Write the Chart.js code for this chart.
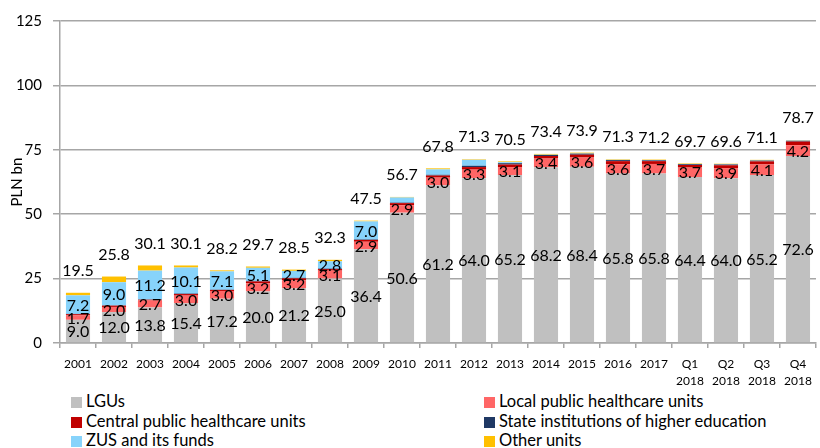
<!DOCTYPE html>
<html>
<head>
<meta charset="utf-8">
<script src="https://cdn.jsdelivr.net/npm/chart.js@4.4.0/dist/chart.umd.min.js"></script>
<style>
  body { margin: 0; background: #fff; font-family: Lato, sans-serif; }
  #wrap { position: relative; width: 820px; height: 448px; }
  #legend { position: absolute; left: 0; top: 392px; width: 820px; }
  .item { position: absolute; height: 19px; line-height: 19px; font-size: 16.5px; color: #000; white-space: nowrap; }
  .box { display: inline-block; width: 11px; height: 11px; margin-right: 4px; vertical-align: -1px; }
</style>
</head>
<body>
<div id="wrap">
  <canvas id="chart" width="820" height="390"></canvas>
  <div id="legend"></div>
</div>
<script>
// catégories
var periods = ['2001', '2002', '2003', '2004', '2005', '2006', '2007', '2008', '2009', '2010',
    '2011', '2012', '2013', '2014', '2015', '2016', '2017',
    ['Q1', '2018'], ['Q2', '2018'], ['Q3', '2018'], ['Q4', '2018']];

// séries (PLN bn)
var lgus = [9.0, 12.0, 13.8, 15.4, 17.2, 20.0, 21.2, 25.0, 36.4, 50.6, 61.2, 64.0, 65.2, 68.2, 68.4, 65.8, 65.8, 64.4, 64.0, 65.2, 72.6];
var localUnits = [1.7, 2.0, 2.7, 3.0, 3.0, 3.2, 3.2, 3.1, 2.9, 2.9, 3.0, 3.3, 3.1, 3.4, 3.6, 3.6, 3.7, 3.7, 3.9, 4.1, 4.2];
var centralUnits = [0.5, 0.5, 0.3, 0.6, 0.4, 0.7, 0.7, 0.6, 0.7, 0.8, 0.8, 1.0, 1.0, 1.0, 1.1, 1.2, 1.1, 1.0, 1.1, 1.2, 1.4];
var higherEd = [0.1, 0.1, 0.1, 0.2, 0.1, 0.2, 0.2, 0.2, 0.2, 0.2, 0.3, 0.5, 0.5, 0.4, 0.4, 0.4, 0.3, 0.3, 0.3, 0.3, 0.3];
var zus = [7.2, 9.0, 11.2, 10.1, 7.1, 5.1, 2.7, 2.8, 7.0, 2.0, 2.1, 2.3, 0.4, 0.1, 0.1, 0.1, 0.1, 0.1, 0.1, 0.1, 0.1];
var otherUnits = [1.0, 2.2, 2.0, 0.8, 0.4, 0.5, 0.5, 0.6, 0.3, 0.2, 0.4, 0.2, 0.3, 0.3, 0.3, 0.2, 0.2, 0.2, 0.2, 0.2, 0.1];
var totals = [19.5, 25.8, 30.1, 30.1, 28.2, 29.7, 28.5, 32.3, 47.5, 56.7, 67.8, 71.3, 70.5, 73.4, 73.9, 71.3, 71.2, 69.7, 69.6, 71.1, 78.7];

var yTicks = [0, 25, 50, 75, 100, 125];

var seriesNames = ['LGUs', 'Local public healthcare units', 'Central public healthcare units',
    'State institutions of higher education', 'ZUS and its funds', 'Other units'];
var seriesColors = ['#c0c0c0', '#ff6666', '#c00000', '#1f3864', '#87d3fb', '#ffc000'];
var seriesValues = [lgus, localUnits, centralUnits, higherEd, zus, otherUnits];
// quelles séries reçoivent une étiquette (seuil minimal)
var labelMin = [0, 0, null, null, 2.5, null];

// plugin maison pour les étiquettes de valeurs
var valueLabels = {
    id: 'valueLabels',
    afterDatasetsDraw: function (chart) {
        var ctx = chart.ctx;
        var y = chart.scales.y;
        ctx.save();
        ctx.font = '16px Lato';
        ctx.fillStyle = '#000';
        ctx.textAlign = 'center';
        ctx.textBaseline = 'middle';
        chart.data.datasets.forEach(function (ds, d) {
            if (labelMin[d] === null) return;
            var meta = chart.getDatasetMeta(d);
            meta.data.forEach(function (bar, i) {
                if (ds.data[i] < labelMin[d]) return;
                ctx.fillText(ds.data[i].toFixed(1), bar.x, (bar.y + bar.base) / 2 + 1);
            });
        });
        var meta0 = chart.getDatasetMeta(0);
        totals.forEach(function (t, i) {
            ctx.fillText(t.toFixed(1), meta0.data[i].x, y.getPixelForValue(t) - 22);
        });
        ctx.restore();
    }
};

var datasets = seriesNames.map(function (name, i) {
    return {
        label: name,
        data: seriesValues[i],
        backgroundColor: seriesColors[i],
        borderWidth: 0,
        barPercentage: 0.67,
        categoryPercentage: 1.0
    };
});

new Chart(document.getElementById('chart').getContext('2d'), {
    type: 'bar',
    data: { labels: periods, datasets: datasets },
    options: {
        responsive: false,
        animation: false,
        layout: { padding: { top: 21, right: 4, left: 0, bottom: 0 } },
        plugins: { legend: { display: false }, tooltip: { enabled: false } },
        scales: {
            x: {
                stacked: true,
                grid: { drawOnChartArea: false, offset: true, tickLength: 5, color: '#a6a6a6', lineWidth: 1.5 },
                border: { display: true, color: '#a6a6a6', width: 1.5 },
                ticks: {
                    autoSkip: false, maxRotation: 0, padding: 8, color: '#000',
                    font: { family: 'Lato', size: 12, lineHeight: 1.4 }
                },
                afterFit: function (s) { s.height = 47; }
            },
            y: {
                stacked: true,
                min: 0,
                max: 125,
                afterBuildTicks: function (s) { s.ticks = yTicks.map(function (v) { return { value: v }; }); },
                grid: { color: '#a6a6a6', lineWidth: 1.5, tickLength: 7 },
                border: { display: true, color: '#a6a6a6', width: 1.5 },
                ticks: { padding: 11, color: '#000', font: { family: 'Lato', size: 15 } },
                title: {
                    display: true, text: 'PLN bn', color: '#000',
                    font: { family: 'Lato', size: 15 }, padding: { top: 8, bottom: 0 }
                },
                afterFit: function (s) { s.width = 60; }
            }
        }
    },
    plugins: [valueLabels]
});

// légende HTML sur deux colonnes
var legend = document.getElementById('legend');
var colX = [71, 484];
seriesNames.forEach(function (name, i) {
    var item = document.createElement('div');
    item.className = 'item';
    item.style.left = colX[i % 2] + 'px';
    item.style.top = (Math.floor(i / 2) * 19.5) + 'px';
    item.innerHTML = '<span class="box" style="background:' + seriesColors[i] + '"></span>' + name;
    legend.appendChild(item);
});
</script>
</body>
</html>
